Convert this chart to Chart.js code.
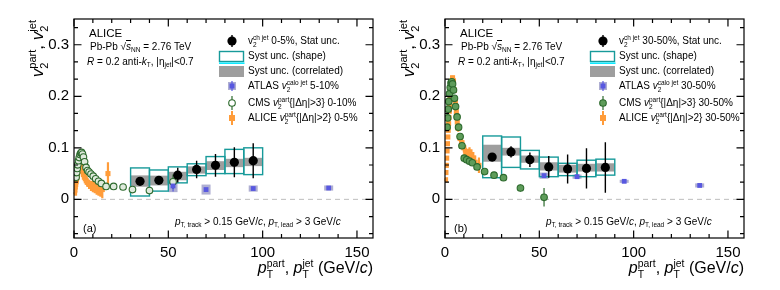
<!DOCTYPE html>
<html>
<head>
<meta charset="utf-8">
<title>Jet v2 vs pT</title>
<script src="https://cdn.jsdelivr.net/npm/chart.js@4.4.1/dist/chart.umd.min.js"></script>
<style>
  body { margin: 0; background: #fff; }
  #wrap { position: relative; width: 780px; height: 290px; overflow: hidden; font-family: "Liberation Sans", Arial, sans-serif; }
  .panel { position: absolute; top: 0; width: 390px; height: 290px; }
  .panel canvas { position: absolute; left: 0; top: 0; }
  .t { position: absolute; white-space: nowrap; line-height: 1; color: #000; }
  .ss { position: relative; display: inline-block; font-size: 0.65em; line-height: 1; }
  .ss .up { position: relative; top: -0.6em; }
  .ss .dn { position: absolute; left: 0; top: 0.45em; }
  .sb { position: relative; top: 0.3em; font-size: 0.65em; }
  .ovl { border-top: 1px solid #000; }
  .ytitle { transform-origin: 0 0; transform: rotate(-90deg) translateX(-100%); }
</style>
</head>
<body>
<div id="wrap">
  <div class="panel" id="pa" style="left:0"><canvas id="ca" width="390" height="290"></canvas></div>
  <div class="panel" id="pb" style="left:371px"><canvas id="cb" width="390" height="290"></canvas></div>
</div>
<script>
// ---- axis ticks ----
const xTicks = [0, 10, 20, 30, 40, 50, 60, 70, 80, 90, 100, 110, 120, 130, 140, 150];
const xTickLabels = ['0', '50', '100', '150'];
const yTicks = [-2, -1, 0, 1, 2, 3, 4, 5, 6, 7, 8, 9, 10].map(k => k / 30);
const yTickLabels = ['0', '0.1', '0.2', '0.3'];

// ---- (a) 0-5% ----
const jetXa = [35, 45, 55, 65, 75, 85, 95];
const jetVa = [0.035, 0.037, 0.047, 0.058, 0.066, 0.072, 0.075];
const jetStatA = [0.005, 0.006, 0.0145, 0.017, 0.022, 0.029, 0.034];
const shapeLoA = [0.0065, 0.016, 0.032, 0.046, 0.050, 0.050, 0.048];
const shapeHiA = [0.061, 0.057, 0.063, 0.069, 0.083, 0.097, 0.100];
const corrLoA = [0.0245, 0.027, 0.037, 0.050, 0.057, 0.0625, 0.0645];
const corrHiA = [0.0465, 0.046, 0.0535, 0.064, 0.074, 0.0787, 0.0806];

const atlasXa = [52.5, 70, 95, 135];
const atlasVa = [0.026, 0.019, 0.021, 0.022];
const atlasStatA = [0.011, 0.002, 0.002, 0.003];
const atlasBoxA = [0.012, 0.0097, 0.006, 0.005];

const cmsXa = [1.1, 1.4, 1.7, 2.0, 2.4, 2.8, 3.2, 3.6, 4.0, 4.5, 5.0, 5.6, 6.4, 7.2, 8.0, 9.0, 10.2, 11.5, 13, 14.5, 17, 21, 26, 31, 40, 52.5];
const cmsVa = [0.043, 0.052, 0.060, 0.067, 0.075, 0.081, 0.087, 0.090, 0.091, 0.088, 0.082, 0.073, 0.062, 0.056, 0.053, 0.049, 0.045, 0.040, 0.035, 0.031, 0.025, 0.025, 0.024, 0.019, 0.017, 0.034];
const cmsErrA = [0.002, 0.002, 0.002, 0.002, 0.002, 0.002, 0.002, 0.002, 0.002, 0.002, 0.002, 0.002, 0.002, 0.002, 0.002, 0.002, 0.002, 0.002, 0.002, 0.002, 0.003, 0.003, 0.003, 0.004, 0.004, 0.014];

const hXa = [0.3, 0.5, 0.7, 0.9, 1.1, 1.3, 1.5, 1.7, 1.9, 2.1, 2.3, 2.5, 2.7, 2.9, 3.2, 3.6, 4.0, 4.5, 5.0, 5.5, 6.0, 6.5, 7.0, 8.0, 9.0, 10, 11, 12, 13, 14, 15, 18];
const hVa = [0.012, 0.018, 0.024, 0.029, 0.034, 0.038, 0.042, 0.046, 0.050, 0.054, 0.058, 0.062, 0.066, 0.069, 0.072, 0.070, 0.064, 0.055, 0.048, 0.043, 0.040, 0.036, 0.033, 0.029, 0.026, 0.025, 0.024, 0.022, 0.021, 0.020, 0.019, 0.050];
const hErrA = [0.002, 0.002, 0.002, 0.002, 0.002, 0.002, 0.002, 0.002, 0.002, 0.002, 0.002, 0.002, 0.002, 0.002, 0.003, 0.003, 0.003, 0.004, 0.005, 0.005, 0.006, 0.007, 0.008, 0.009, 0.010, 0.011, 0.012, 0.013, 0.014, 0.015, 0.017, 0.022];

// ---- (b) 30-50% ----
const jetXb = [25, 35, 45, 55, 65, 75, 85];
const jetVb = [0.082, 0.092, 0.077, 0.063, 0.059, 0.060, 0.062];
const jetStatB = [0.004, 0.011, 0.014, 0.021, 0.028, 0.039, 0.049];
const shapeLoB = [0.042, 0.062, 0.059, 0.044, 0.046, 0.044, 0.047];
const shapeHiB = [0.123, 0.121, 0.095, 0.082, 0.070, 0.076, 0.078];
const corrLoB = [0.073, 0.085, 0.071, 0.056, 0.052, 0.054, 0.054];
const corrHiB = [0.106, 0.100, 0.085, 0.072, 0.067, 0.069, 0.070];

const atlasXb = [52.5, 70, 95, 135];
const atlasVb = [0.046, 0.044, 0.035, 0.027];
const atlasStatB = [0.003, 0.002, 0.002, 0.003];
const atlasBoxB = [0.006, 0.004, 0.003, 0.004];

const cmsXb = [1.1, 1.4, 1.7, 2.0, 2.4, 2.8, 3.2, 3.6, 4.0, 4.5, 5.0, 5.6, 6.4, 7.2, 8.0, 9.0, 10.2, 11.5, 13, 14.5, 17, 21, 26, 31, 40, 52.5];
const cmsVb = [0.140, 0.158, 0.175, 0.190, 0.205, 0.217, 0.226, 0.228, 0.224, 0.212, 0.196, 0.180, 0.160, 0.140, 0.122, 0.104, 0.080, 0.077, 0.074, 0.071, 0.063, 0.054, 0.047, 0.042, 0.022, 0.004];
const cmsErrB = [0.002, 0.002, 0.002, 0.002, 0.002, 0.002, 0.002, 0.002, 0.002, 0.002, 0.002, 0.002, 0.002, 0.002, 0.002, 0.002, 0.002, 0.002, 0.002, 0.002, 0.003, 0.003, 0.003, 0.003, 0.007, 0.018];

const hXb = [0.3, 0.5, 0.7, 0.9, 1.1, 1.3, 1.5, 1.7, 1.9, 2.1, 2.3, 2.5, 2.7, 2.9, 3.2, 3.6, 4.0, 4.5, 5.0, 5.5, 6.0, 6.5, 7.0, 8.0, 9.0, 10, 11, 12, 13, 14, 15, 16, 18];
const hVb = [0.038, 0.052, 0.066, 0.080, 0.094, 0.108, 0.121, 0.134, 0.147, 0.159, 0.171, 0.183, 0.194, 0.205, 0.218, 0.230, 0.236, 0.230, 0.212, 0.190, 0.170, 0.150, 0.138, 0.118, 0.110, 0.100, 0.090, 0.088, 0.090, 0.086, 0.080, 0.072, 0.066];
const hErrB = [0.003, 0.003, 0.003, 0.003, 0.003, 0.003, 0.003, 0.003, 0.003, 0.003, 0.003, 0.003, 0.003, 0.003, 0.003, 0.003, 0.004, 0.004, 0.005, 0.005, 0.006, 0.006, 0.007, 0.008, 0.008, 0.009, 0.010, 0.010, 0.011, 0.011, 0.012, 0.013, 0.015];

const panels = {
  ca: { jetX: jetXa, jetV: jetVa, jetStat: jetStatA, shapeLo: shapeLoA, shapeHi: shapeHiA, corrLo: corrLoA, corrHi: corrHiA,
        atlasX: atlasXa, atlasV: atlasVa, atlasStat: atlasStatA, atlasBox: atlasBoxA,
        cmsX: cmsXa, cmsV: cmsVa, cmsErr: cmsErrA, hX: hXa, hV: hVa, hErr: hErrA, cmsFill: '#dfeadd', cmsOpen: true },
  cb: { jetX: jetXb, jetV: jetVb, jetStat: jetStatB, shapeLo: shapeLoB, shapeHi: shapeHiB, corrLo: corrLoB, corrHi: corrHiB,
        atlasX: atlasXb, atlasV: atlasVb, atlasStat: atlasStatB, atlasBox: atlasBoxB,
        cmsX: cmsXb, cmsV: cmsVb, cmsErr: cmsErrB, hX: hXb, hV: hVb, hErr: hErrB, cmsFill: '#5e9c5a', cmsOpen: false }
};

const FONT = '"Liberation Sans", Arial, sans-serif';
const TEAL = '#179a9a';
const GREY = '#9e9e9e';
const BLUE = '#5858e0';
const LAV = '#aeaed2';
const ORANGE = '#ff9c3a';
const GREEN = '#2d6a2d';

function pts(xs, ys) { return xs.map((x, i) => ({ x: x, y: ys[i] })); }

// draws systematics boxes, error bars, frame, ticks and the legend symbols
const decor = {
  id: 'decor',
  beforeDatasetsDraw(chart) {
    const P = panels[chart.canvas.id];
    const ctx = chart.ctx, xs = chart.scales.x, ys = chart.scales.y, a = chart.chartArea;
    const X = v => xs.getPixelForValue(v), Y = v => ys.getPixelForValue(v);
    ctx.save();
    // dashed zero line
    ctx.strokeStyle = '#bdbdbd'; ctx.lineWidth = 1; ctx.setLineDash([5, 4]);
    ctx.beginPath(); ctx.moveTo(a.left, Y(0)); ctx.lineTo(a.right, Y(0)); ctx.stroke();
    ctx.setLineDash([]);
    // ATLAS syst boxes
    ctx.fillStyle = LAV;
    P.atlasX.forEach((x, i) => {
      ctx.fillRect(X(x) - 4.5, Y(P.atlasV[i] + P.atlasBox[i]), 9, Y(P.atlasV[i] - P.atlasBox[i]) - Y(P.atlasV[i] + P.atlasBox[i]));
    });
    // correlated syst (grey) and shape syst (teal)
    ctx.fillStyle = GREY;
    P.jetX.forEach((x, i) => {
      ctx.fillRect(X(x - 4.8), Y(P.corrHi[i]), X(x + 4.8) - X(x - 4.8), Y(P.corrLo[i]) - Y(P.corrHi[i]));
    });
    ctx.strokeStyle = TEAL; ctx.lineWidth = 1.4;
    P.jetX.forEach((x, i) => {
      ctx.strokeRect(X(x - 5), Y(P.shapeHi[i]), X(x + 5) - X(x - 5), Y(P.shapeLo[i]) - Y(P.shapeHi[i]));
    });
    // error bars
    const bars = (xArr, vArr, eArr, color, w) => {
      ctx.strokeStyle = color; ctx.lineWidth = w;
      ctx.beginPath();
      xArr.forEach((x, i) => {
        ctx.moveTo(X(x), Y(vArr[i] - eArr[i])); ctx.lineTo(X(x), Y(vArr[i] + eArr[i]));
      });
      ctx.stroke();
    };
    bars(P.hX, P.hV, P.hErr, ORANGE, 2.2);
    bars(P.cmsX, P.cmsV, P.cmsErr, GREEN, 1.2);
    bars(P.atlasX, P.atlasV, P.atlasStat, BLUE, 1.2);
    bars(P.jetX, P.jetV, P.jetStat, '#000', 1.4);
    ctx.restore();
  },
  afterDraw(chart) {
    const P = panels[chart.canvas.id];
    const ctx = chart.ctx, xs = chart.scales.x, ys = chart.scales.y, a = chart.chartArea;
    ctx.save();
    ctx.strokeStyle = '#000'; ctx.lineWidth = 1.2;
    ctx.strokeRect(a.left, a.top, a.right - a.left, a.bottom - a.top);
    ctx.beginPath();
    xs.ticks.forEach(t => {
      const px = xs.getPixelForValue(t.value);
      const len = t.value % 50 === 0 ? 7.5 : 4;
      ctx.moveTo(px, a.bottom); ctx.lineTo(px, a.bottom - len);
      ctx.moveTo(px, a.top); ctx.lineTo(px, a.top + len);
    });
    ys.ticks.forEach(t => {
      const py = ys.getPixelForValue(t.value);
      const len = Math.round(t.value * 30) % 3 === 0 ? 7.5 : 4;
      ctx.moveTo(a.left, py); ctx.lineTo(a.left + len, py);
      ctx.moveTo(a.right, py); ctx.lineTo(a.right - len, py);
    });
    ctx.stroke();

    // legend symbols
    const lx = 232;
    ctx.fillStyle = '#000'; ctx.strokeStyle = '#000'; ctx.lineWidth = 1.4;
    ctx.beginPath(); ctx.moveTo(lx, 35); ctx.lineTo(lx, 47); ctx.stroke();
    ctx.beginPath(); ctx.arc(lx, 41, 4.6, 0, Math.PI * 2); ctx.fill();
    ctx.strokeStyle = TEAL; ctx.lineWidth = 1.4; ctx.strokeRect(219.5, 51.5, 24, 10);
    ctx.strokeStyle = '#00e8ff'; ctx.lineWidth = 1.5;
    ctx.beginPath(); ctx.moveTo(219, 63.2); ctx.lineTo(244.5, 63.2); ctx.stroke();
    ctx.fillStyle = GREY; ctx.fillRect(219, 66, 25, 11);
    ctx.fillStyle = LAV; ctx.fillRect(lx - 4, 82, 8, 8);
    ctx.strokeStyle = BLUE; ctx.lineWidth = 1.2;
    ctx.beginPath(); ctx.moveTo(lx, 81); ctx.lineTo(lx, 91); ctx.stroke();
    ctx.fillStyle = BLUE; ctx.fillRect(lx - 2.5, 83.5, 5, 5);
    ctx.strokeStyle = GREEN;
    ctx.beginPath(); ctx.moveTo(lx, 96); ctx.lineTo(lx, 110); ctx.stroke();
    ctx.beginPath(); ctx.arc(lx, 103, 3.3, 0, Math.PI * 2);
    ctx.fillStyle = P.cmsOpen ? '#ffffff' : P.cmsFill; ctx.fill(); ctx.lineWidth = 1.1; ctx.stroke();
    ctx.strokeStyle = ORANGE; ctx.lineWidth = 2;
    ctx.beginPath(); ctx.moveTo(lx, 111); ctx.lineTo(lx, 125); ctx.stroke();
    ctx.fillStyle = ORANGE; ctx.fillRect(lx - 3, 115, 6, 6);
    ctx.restore();
  }
};

function makeChart(id) {
  const P = panels[id];
  return new Chart(document.getElementById(id), {
    type: 'scatter',
    data: {
      datasets: [
        { label: 'ALICE v2 ch jet', data: pts(P.jetX, P.jetV), backgroundColor: '#000', borderWidth: 0, pointRadius: 4.6, order: 1 },
        { label: 'ATLAS', data: pts(P.atlasX, P.atlasV), pointStyle: 'rect', backgroundColor: BLUE, borderWidth: 0, pointRadius: 3.4, order: 2 },
        { label: 'CMS', data: pts(P.cmsX, P.cmsV), backgroundColor: P.cmsFill, borderColor: GREEN, borderWidth: 1.1, pointRadius: 3.3, order: 3 },
        { label: 'ALICE hadrons', data: pts(P.hX, P.hV), pointStyle: 'rect', backgroundColor: ORANGE, borderWidth: 0, pointRadius: 3.6, order: 4 }
      ]
    },
    options: {
      responsive: false,
      animation: false,
      events: [],
      layout: { padding: { left: 0, right: 17, top: 19, bottom: 0 }, autoPadding: false },
      plugins: { legend: { display: false }, tooltip: { enabled: false } },
      scales: {
        x: {
          type: 'linear', min: 0, max: 158.5,
          grid: { display: false, drawTicks: false }, border: { display: false },
          afterBuildTicks: s => { s.ticks = xTicks.map(v => ({ value: v })); },
          afterFit: s => { s.height = 52; },
          ticks: {
            autoSkip: false, maxRotation: 0, padding: 6, color: '#000', font: { family: FONT, size: 15 },
            callback: v => (v % 50 === 0 ? xTickLabels[v / 50] : '')
          }
        },
        y: {
          type: 'linear', min: -0.075, max: 0.35,
          grid: { display: false, drawTicks: false }, border: { display: false },
          afterBuildTicks: s => { s.ticks = yTicks.map(v => ({ value: v })); },
          afterFit: s => { s.width = 74; },
          ticks: {
            autoSkip: false, padding: 5, color: '#000', font: { family: FONT, size: 15 },
            callback: v => { const k = Math.round(v * 30); return k % 3 === 0 && k >= 0 ? yTickLabels[k / 3] : ''; }
          }
        }
      }
    },
    plugins: [decor]
  });
}

// ---- text overlays ----
function ss(up, dn) { return '<span class="ss"><span class="up">' + up + '</span><span class="dn">' + dn + '</span></span>'; }
function addText(panelId, html, left, top, size, extraClass) {
  const d = document.createElement('div');
  d.className = 't' + (extraClass ? ' ' + extraClass : '');
  d.style.left = left + 'px'; d.style.top = top + 'px'; d.style.fontSize = size + 'px';
  d.innerHTML = html;
  document.getElementById(panelId).appendChild(d);
  return d;
}
function texts(panelId, cent, cms, tag) {
  addText(panelId, 'ALICE', 89, 28, 11.5);
  addText(panelId, 'Pb-Pb &#8730;<span class="ovl"><i>s</i></span><span class="sb">NN</span> = 2.76 TeV', 90, 42, 10);
  addText(panelId, '<i>R</i> = 0.2 anti-<i>k</i><span class="sb">T</span>, |&#951;<span class="sb">jet</span>|&lt;0.7', 87, 57, 10);
  addText(panelId, 'v' + ss('ch jet', '2') + ' ' + cent + ', Stat unc.', 248, 36, 10);
  addText(panelId, 'Syst unc. (shape)', 248, 51, 10);
  addText(panelId, 'Syst unc. (correlated)', 248, 66, 10);
  addText(panelId, 'ATLAS <i>v</i>' + ss('calo jet', '2') + ' ' + (cent === '0-5%' ? '5-10%' : cent), 248, 81, 10);
  addText(panelId, 'CMS <i>v</i>' + ss('part', '2') + '{|&#916;&#951;|&gt;3} ' + cms, 248, 98, 10);
  addText(panelId, 'ALICE <i>v</i>' + ss('part', '2') + '{|&#916;&#951;|&gt;2} ' + cent, 248, 113, 10);
  addText(panelId, '<i>p</i><span class="sb">T, track</span> &gt; 0.15 GeV/<i>c</i>, <i>p</i><span class="sb">T, lead</span> &gt; 3 GeV/<i>c</i>', 175, 217, 10);
  addText(panelId, tag, 83, 223, 11);
  const xt = addText(panelId, '<i>p</i>' + ss('part', 'T') + ', <i>p</i>' + ss('jet', 'T') + ' (GeV/<i>c</i>)', 0, 260, 16);
  xt.style.left = 'auto'; xt.style.right = '17px';
  addText(panelId, '<i>v</i>' + ss('part', '2') + ', <i>v</i>' + ss('jet', '2'), 29, 20, 17, 'ytitle');
}

makeChart('ca');
makeChart('cb');
texts('pa', '0-5%', '0-10%', '(a)');
texts('pb', '30-50%', '30-50%', '(b)');
</script>
</body>
</html>
